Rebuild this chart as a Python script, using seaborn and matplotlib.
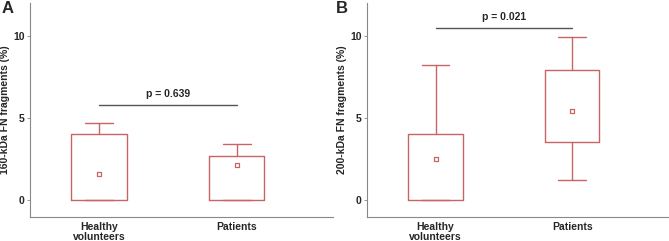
import numpy as np
import seaborn as sns
import matplotlib.pyplot as plt

groups = ['Healthy\nvolunteers', 'Patients']

# panel A: 160-kDa
a_whislo = [0.0, 0.0]
a_q1 = [0.0, 0.0]
a_q3 = [4.0, 2.7]
a_whishi = [4.7, 3.4]
a_mean = [1.6, 2.1]
a_p = 'p = 0.639'
a_pline = 5.8

# panel B: 200-kDa
b_whislo = [0.0, 1.2]
b_q1 = [0.0, 3.5]
b_q3 = [4.0, 7.9]
b_whishi = [8.2, 9.9]
b_mean = [2.5, 5.4]
b_p = 'p = 0.021'
b_pline = 10.5

sns.set_style('white')
plt.rcParams['font.family'] = ['Liberation Sans', 'DejaVu Sans']

red = '#c86464'
fig = plt.figure(figsize=(6.69, 2.41), dpi=100)
axA = fig.add_axes([0.045, 0.10, 0.453, 0.888])
axB = fig.add_axes([0.549, 0.10, 0.449, 0.888])


def draw(ax, whislo, q1, q3, whishi, mean, ptxt, pline, ylabel, letter, lx):
    stats = []
    for i in range(len(groups)):
        stats.append(dict(whislo=whislo[i], q1=q1[i], med=np.nan, q3=q3[i],
                          whishi=whishi[i], fliers=[]))
    ax.bxp(stats, positions=range(len(groups)), widths=0.4, capwidths=0.2,
           showfliers=False,
           boxprops=dict(color=red, lw=1), whiskerprops=dict(color=red, lw=1),
           capprops=dict(color=red, lw=1), medianprops=dict(alpha=0))
    sns.scatterplot(x=list(range(len(groups))), y=mean, marker='s', s=8,
                    facecolor='white', edgecolor=red, linewidth=0.9, ax=ax, zorder=3)
    ax.plot([0, 1], [pline, pline], color='#555555', lw=1)
    ax.text(0.5, pline + 0.35, ptxt, ha='center', va='bottom',
            fontsize=7.5, fontweight='bold')
    ax.set_xlim(-0.5, 1.7)
    ax.set_ylim(-1.03, 12)
    ax.set_yticks([0, 5, 10])
    ax.set_yticklabels(['0', '5', '10'], fontweight='bold', fontsize=7.5)
    ax.set_xticks(range(len(groups)))
    ax.set_xticklabels(groups, fontweight='bold', fontsize=7.5, va='top',
                       linespacing=1.0)
    ax.tick_params(axis='y', length=2, width=0.6, color='#888888', pad=2, left=True)
    ax.tick_params(axis='x', length=0, pad=4)
    ax.set_ylabel(ylabel, fontweight='bold', fontsize=7.5, labelpad=2)
    for s in ['top', 'right']:
        ax.spines[s].set_visible(False)
    for s in ['left', 'bottom']:
        ax.spines[s].set_color('#888888')
        ax.spines[s].set_linewidth(0.8)
    fig.text(lx, 0.995, letter, fontsize=12, fontweight='bold', va='top', ha='left')


draw(axA, a_whislo, a_q1, a_q3, a_whishi, a_mean, a_p, a_pline,
     '160-kDa FN fragments (%)', 'A', 0.002)
draw(axB, b_whislo, b_q1, b_q3, b_whishi, b_mean, b_p, b_pline,
     '200-kDa FN fragments (%)', 'B', 0.502)

plt.savefig('out.png', dpi=100)
